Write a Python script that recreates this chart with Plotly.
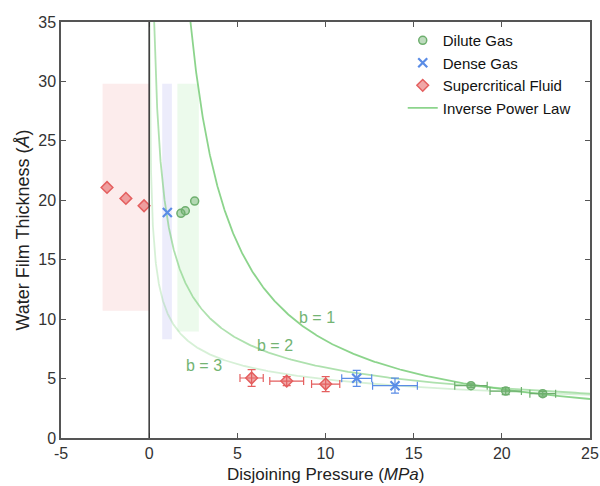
import numpy as np
import plotly.graph_objects as go

# ---- data ----
sc_top_x = [-2.39, -1.32, -0.29]
sc_top_y = [21.08, 20.16, 19.54]
dense_top_x = [1.03]
dense_top_y = [18.98]
dilute_top_x = [1.80, 2.05, 2.58]
dilute_top_y = [18.9, 19.12, 19.93]

sc_x = [5.81, 7.8, 10.01]
sc_y = [5.05, 4.79, 4.54]
sc_xerr = [0.66, 0.96, 0.8]
sc_yerr = [0.7, 0.38, 0.63]

dense_x = [11.77, 13.94]
dense_y = [5.02, 4.4]
dense_xerr = [0.85, 1.27]
dense_yerr = [0.67, 0.63]

dilute_x = [18.25, 20.22, 22.32]
dilute_y = [4.4, 3.95, 3.73]
dilute_xerr = [0.92, 0.89, 0.73]
dilute_yerr = [0.15, 0.3, 0.2]

# shaded ranges: (x0, x1, y0, y1)
range_sc = [-2.64, 0.0, 10.7, 29.8]
range_dense = [0.74, 1.29, 8.3, 29.8]
range_dilute = [1.6, 2.82, 8.95, 29.8]

# inverse power law fits: h = (A / P)^(1/b)
b_values = [1, 2, 3]
A_values = [82, 350, 1200]
b_label_x = [9.5, 7.13, 3.13]
b_label_y = [10.1, 7.82, 6.06]
curve_colors = ["rgba(120,205,120,0.85)", "rgba(120,205,120,0.6)", "rgba(120,205,120,0.3)"]

x_ticks = [-5, 0, 5, 10, 15, 20, 25]
x_ticktext = ["-5", "0", "5", "10", "15", "20", "25"]
y_ticks = [0, 5, 10, 15, 20, 25, 30, 35]

GREEN = "rgb(110,175,110)"
GREEN_FILL = "rgba(110,175,110,0.55)"
BLUE = "rgb(90,140,230)"
RED = "rgb(228,95,95)"
RED_FILL = "rgba(228,95,95,0.55)"

fig = go.Figure()

# power-law curves
for i, (b, A) in enumerate(zip(b_values, A_values)):
    pmin = A / 35.0 ** b
    P = np.geomspace(pmin, 25, 400)
    h = (A / P) ** (1.0 / b)
    fig.add_trace(go.Scatter(
        x=P, y=h, mode="lines",
        line=dict(color=curve_colors[i], width=1.8),
        name="Inverse Power Law", showlegend=(i == 0), legendrank=4,
        hoverinfo="skip"))
    fig.add_annotation(x=b_label_x[i], y=b_label_y[i], text=f"b = {b}",
                       showarrow=False, font=dict(size=16, color="rgb(115,180,115)"))

# dilute gas
fig.add_trace(go.Scatter(
    x=dilute_top_x, y=dilute_top_y, mode="markers", name="Dilute Gas", legendrank=1,
    marker=dict(symbol="circle", size=8, color="rgba(110,175,110,0.45)",
                line=dict(color=GREEN, width=1.5))))
fig.add_trace(go.Scatter(
    x=dilute_x, y=dilute_y, mode="markers", showlegend=False,
    marker=dict(symbol="circle", size=8, color=GREEN_FILL, line=dict(color=GREEN, width=1.5)),
    error_x=dict(type="data", array=dilute_xerr, color=GREEN, thickness=1.2, width=4),
    error_y=dict(type="data", array=dilute_yerr, color=GREEN, thickness=1.2, width=4)))

# dense gas
fig.add_trace(go.Scatter(
    x=dense_top_x, y=dense_top_y, mode="markers", name="Dense Gas", legendrank=2,
    marker=dict(symbol="x-thin", size=9, color=BLUE, line=dict(color=BLUE, width=2.2))))
fig.add_trace(go.Scatter(
    x=dense_x, y=dense_y, mode="markers", showlegend=False,
    marker=dict(symbol="x-thin", size=9, color=BLUE, line=dict(color=BLUE, width=2.2)),
    error_x=dict(type="data", array=dense_xerr, color=BLUE, thickness=1.2, width=4),
    error_y=dict(type="data", array=dense_yerr, color=BLUE, thickness=1.2, width=4)))

# supercritical fluid
fig.add_trace(go.Scatter(
    x=sc_top_x, y=sc_top_y, mode="markers", name="Supercritical Fluid", legendrank=3,
    marker=dict(symbol="diamond", size=9, color=RED_FILL, line=dict(color=RED, width=1.5))))
fig.add_trace(go.Scatter(
    x=sc_x, y=sc_y, mode="markers", showlegend=False,
    marker=dict(symbol="diamond", size=9, color=RED_FILL, line=dict(color=RED, width=1.5)),
    error_x=dict(type="data", array=sc_xerr, color=RED, thickness=1.2, width=4),
    error_y=dict(type="data", array=sc_yerr, color=RED, thickness=1.2, width=4)))

# shaded regions
for r, col in [(range_sc, "rgba(235,120,120,0.14)"),
               (range_dense, "rgba(120,120,230,0.14)"),
               (range_dilute, "rgba(120,220,120,0.14)")]:
    fig.add_shape(type="rect", xref="x", yref="y", x0=r[0], x1=r[1], y0=r[2], y1=r[3],
                  fillcolor=col, line=dict(width=0), layer="below")

# vertical line at zero
fig.add_shape(type="line", xref="x", yref="paper", x0=0, x1=0, y0=0, y1=1,
              line=dict(color="#333", width=1.5), layer="above")

# x-axis title (placed as annotation for exact position)
fig.add_annotation(xref="paper", yref="paper", x=0.5, y=-0.087, yanchor="middle",
                   text="Disjoining Pressure (<i>MPa</i>)", showarrow=False,
                   font=dict(size=17, color="#222"))

axis_common = dict(showgrid=False, zeroline=False, showline=True, linecolor="#555",
                   linewidth=1.5, mirror="ticks", ticks="inside", ticklen=5,
                   tickcolor="#555", tickwidth=1.2, automargin=False,
                   tickfont=dict(size=16, color="#333", family="Liberation Sans, Arial"))

fig.update_layout(
    width=600, height=486,
    margin=dict(l=61, r=10, t=22, b=48),
    paper_bgcolor="white", plot_bgcolor="white",
    font=dict(family="Liberation Sans, Arial", color="#222"),
    xaxis=dict(range=[-5, 25], tickvals=x_ticks, ticktext=x_ticktext, **axis_common),
    yaxis=dict(range=[0, 35], tickvals=y_ticks,
               title=dict(text="Water Film Thickness (<i>Å</i>)", font=dict(size=18), standoff=4),
               **axis_common),
    legend=dict(x=0.646, y=0.995, xanchor="left", yanchor="top", bgcolor="rgba(0,0,0,0)",
                font=dict(size=15, color="#111"), tracegroupgap=0,
                itemwidth=30),
    showlegend=True,
)

fig.write_html("out.html")
